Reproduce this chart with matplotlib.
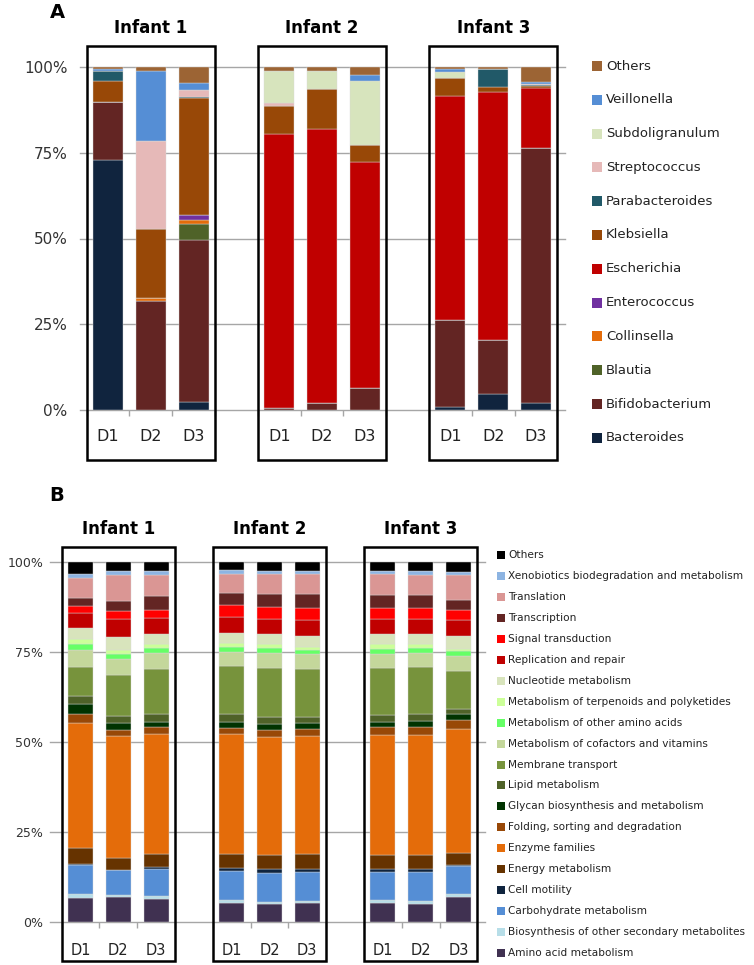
import matplotlib
matplotlib.use("Agg")
import matplotlib.pyplot as plt
from matplotlib.patches import Rectangle
import numpy as np

plt.rcParams['font.family'] = ['DejaVu Sans']

infants = ["Infant 1", "Infant 2", "Infant 3"]
days = ["D1", "D2", "D3"]

# ---------------- Panel A: genera (bottom -> top) ----------------
genera = ["Bacteroides", "Bifidobacterium", "Blautia", "Collinsella", "Enterococcus",
          "Escherichia", "Klebsiella", "Parabacteroides", "Streptococcus",
          "Subdoligranulum", "Veillonella", "Others"]
genera_colors = ["#10243E", "#632523", "#4F6228", "#E46C0A", "#7030A0",
                 "#C00000", "#984807", "#215968", "#E6B9B8",
                 "#D7E4BD", "#558ED5", "#9C6434"]
# columns: I1D1, I1D2, I1D3, I2D1, I2D2, I2D3, I3D1, I3D2, I3D3
bacteroides     = [72.8, 0.0, 2.4, 0.0, 0.0, 0.0, 0.8, 4.7, 2.0]
bifidobacterium = [17.1, 31.9, 47.3, 0.5, 2.0, 6.5, 25.5, 15.7, 74.5]
blautia         = [0.0, 0.0, 4.4, 0.0, 0.0, 0.0, 0.0, 0.0, 0.0]
collinsella     = [0.0, 0.8, 1.2, 0.0, 0.0, 0.0, 0.0, 0.0, 0.0]
enterococcus    = [0.0, 0.0, 1.6, 0.0, 0.0, 0.0, 0.0, 0.0, 0.0]
escherichia     = [0.0, 0.0, 0.0, 79.9, 79.8, 65.7, 65.2, 72.4, 17.3]
klebsiella      = [6.1, 20.0, 34.1, 8.2, 11.9, 5.0, 5.2, 1.5, 0.7]
parabacteroides = [2.9, 0.0, 0.3, 0.0, 0.0, 0.0, 0.0, 5.1, 0.3]
streptococcus   = [0.0, 25.7, 2.0, 0.8, 0.0, 0.0, 0.0, 0.0, 0.3]
subdoligranulum = [0.0, 0.0, 0.0, 9.5, 5.0, 18.8, 1.7, 0.0, 0.0]
veillonella     = [0.4, 20.4, 1.9, 0.0, 0.0, 1.6, 1.0, 0.0, 0.4]
others_a        = [0.7, 1.1, 4.8, 1.1, 1.3, 2.4, 0.6, 0.6, 4.5]
genera_values = [bacteroides, bifidobacterium, blautia, collinsella, enterococcus,
                 escherichia, klebsiella, parabacteroides, streptococcus,
                 subdoligranulum, veillonella, others_a]

# ---------------- Panel B: functional categories (bottom -> top) ----------------
functions = ["Amino acid metabolism", "Biosynthesis of other secondary metabolites",
             "Carbohydrate metabolism", "Cell motility", "Energy metabolism",
             "Enzyme families", "Folding, sorting and degradation",
             "Glycan biosynthesis and metabolism", "Lipid metabolism",
             "Membrane transport", "Metabolism of cofactors and vitamins",
             "Metabolism of other amino acids", "Metabolism of terpenoids and polyketides",
             "Nucleotide metabolism", "Replication and repair", "Signal transduction",
             "Transcription", "Translation", "Xenobiotics biodegradation and metabolism",
             "Others"]
function_colors = ["#403151", "#B7DEE8", "#558ED5", "#0F243E", "#663300",
                   "#E46C0A", "#984807", "#003300", "#4F6228", "#77933C",
                   "#C4D79B", "#66FF66", "#CCFF99", "#D8E4BC", "#C00000",
                   "#FF0000", "#632523", "#DA9694", "#8DB4E2", "#000000"]
# rows: samples I1D1..I3D3, columns follow `functions`
i1d1 = [6.7, 1.0, 8.0, 0.3, 4.6, 34.8, 2.5, 2.6, 2.4, 7.8, 4.8, 1.8, 1.2, 3.3, 4.0, 2.1, 2.2, 5.5, 1.2, 3.2]
i1d2 = [6.9, 0.5, 7.0, 0.1, 3.3, 33.8, 1.8, 2.0, 1.7, 11.6, 4.4, 1.4, 1.0, 3.7, 5.1, 2.1, 2.8, 7.3, 1.0, 2.5]
i1d3 = [6.5, 0.7, 7.6, 0.4, 3.6, 33.3, 2.1, 1.4, 2.1, 12.5, 4.5, 1.4, 1.0, 2.8, 4.6, 2.3, 3.7, 5.8, 1.2, 2.5]
i2d1 = [5.4, 0.6, 8.1, 1.0, 3.9, 33.1, 1.9, 1.6, 2.1, 13.4, 3.9, 1.4, 1.2, 2.8, 4.3, 3.3, 3.4, 5.2, 1.1, 2.3]
i2d2 = [5.1, 0.5, 8.1, 0.9, 3.9, 32.9, 1.8, 1.7, 2.0, 13.7, 4.1, 1.4, 1.0, 3.0, 4.0, 3.3, 3.8, 5.4, 0.9, 2.5]
i2d3 = [5.4, 0.3, 8.2, 0.9, 4.0, 32.8, 1.9, 1.8, 1.6, 13.3, 4.2, 1.2, 0.8, 3.0, 4.6, 3.3, 3.7, 5.6, 0.9, 2.5]
i3d1 = [5.4, 0.6, 7.9, 0.7, 4.1, 33.2, 2.3, 1.4, 1.8, 13.2, 3.9, 1.4, 1.2, 3.0, 4.2, 3.0, 3.4, 5.9, 0.9, 2.5]
i3d2 = [5.1, 0.6, 8.2, 0.7, 4.1, 33.2, 2.3, 1.6, 1.9, 13.1, 3.9, 1.5, 1.1, 2.8, 4.2, 3.0, 3.4, 5.6, 1.2, 2.5]
i3d3 = [6.9, 1.0, 7.6, 0.3, 3.5, 34.2, 2.5, 1.9, 1.4, 10.4, 4.1, 1.4, 0.7, 3.5, 4.6, 2.6, 2.8, 6.9, 0.9, 2.8]
function_samples = [i1d1, i1d2, i1d3, i2d1, i2d2, i2d3, i3d1, i3d2, i3d3]

ytick_labels = ["0%", "25%", "50%", "75%", "100%"]

W, H = 754, 965
fig = plt.figure(figsize=(W / 100, H / 100), dpi=100)

def fx(px):
    return px / W

def fy(py):
    return 1 - py / H

positions = np.array([0, 1, 2, 4, 5, 6, 8, 9, 10], dtype=float)


def draw_panel(ax, layers, colors, width, box_top, box_bot, title_y,
               ytick_fs, xtick_fs, title_fs, xpad, ypad):
    bottom = np.zeros(len(positions))
    for vals, col in zip(layers, colors):
        vals = np.asarray(vals, dtype=float)
        ax.bar(positions, vals, width=width, bottom=bottom, color=col,
               edgecolor="#d9d9d9", linewidth=0.3, zorder=3)
        bottom += vals
    ax.set_ylim(0, 100)
    ax.set_yticks([0, 25, 50, 75, 100])
    ax.set_yticklabels(ytick_labels, fontsize=ytick_fs, color="#333333")
    for yv in [0, 25, 50, 75, 100]:
        ax.axhline(yv, color="#a6a6a6", linewidth=1.0, zorder=1, clip_on=False)
    ax.tick_params(axis="y", length=0, pad=ypad)
    ax.set_xticks(positions)
    ax.set_xticklabels(days * 3, fontsize=xtick_fs, color="#222222")
    ax.tick_params(axis="x", which="major", length=0, pad=xpad)
    minor = []
    for g in range(3):
        minor += [4 * g - 0.5, 4 * g + 0.5, 4 * g + 1.5, 4 * g + 2.5]
    ax.set_xticks(minor, minor=True)
    ax.tick_params(axis="x", which="minor", length=4, color="#a6a6a6", width=1)
    for s in ax.spines.values():
        s.set_visible(False)
    for g, name in enumerate(infants):
        ax.add_patch(Rectangle((4 * g - 0.5, box_bot), 3, box_top - box_bot,
                               fill=False, edgecolor="black", linewidth=1.8,
                               clip_on=False, zorder=5))
        ax.text(4 * g + 1, title_y, name, ha="center", va="center",
                fontsize=title_fs, fontweight="bold", clip_on=False)


# ---------------- Panel A axes ----------------
# px mapping: x = 108 + 42.8*pos ; y: 100% at 67, 0% at 410
axA = fig.add_axes([fx(80), fy(410), fx(565) - fx(80), fy(67) - fy(410)])
axA.set_xlim((80 - 108) / 42.8, (565 - 108) / 42.8)
draw_panel(axA, genera_values, genera_colors, 0.70,
           box_top=(410 - 46) / 3.43, box_bot=(410 - 460) / 3.43,
           title_y=(410 - 28) / 3.43, ytick_fs=11, xtick_fs=11.5, title_fs=12,
           xpad=14, ypad=9)

# ---------------- Panel B axes ----------------
# px mapping: x = 80.5 + 37.8*pos ; y: 100% at 562, 0% at 922
axB = fig.add_axes([fx(50), fy(922), fx(485) - fx(50), fy(562) - fy(922)])
axB.set_xlim((50 - 80.5) / 37.8, (485 - 80.5) / 37.8)
layersB = [list(col) for col in zip(*function_samples)]
draw_panel(axB, layersB, function_colors, 0.66,
           box_top=(922 - 547) / 3.6, box_bot=(922 - 961) / 3.6,
           title_y=(922 - 529) / 3.6, ytick_fs=9, xtick_fs=10.5, title_fs=12,
           xpad=15, ypad=5)

# ---------------- Panel letters ----------------
fig.text(fx(57), fy(13), "A", fontsize=14, fontweight="bold", ha="center", va="center")
fig.text(fx(57), fy(495), "B", fontsize=14, fontweight="bold", ha="center", va="center")

# ---------------- Legends (top entry = last layer) ----------------
for i, (name, col) in enumerate(zip(genera[::-1], genera_colors[::-1])):
    yc = 66 + 33.8 * i
    fig.patches.append(Rectangle((fx(592), fy(yc + 5)), fx(10), 10 / H,
                                 transform=fig.transFigure, facecolor=col,
                                 edgecolor="none"))
    fig.text(fx(606), fy(yc), name, fontsize=9.5, ha="left", va="center",
             color="#222222")

for i, (name, col) in enumerate(zip(functions[::-1], function_colors[::-1])):
    yc = 555 + 20.95 * i
    fig.patches.append(Rectangle((fx(497), fy(yc + 4)), fx(8), 8 / H,
                                 transform=fig.transFigure, facecolor=col,
                                 edgecolor="none"))
    fig.text(fx(508), fy(yc), name, fontsize=7.6, ha="left", va="center",
             color="#222222")

fig.savefig("out.png", dpi=100)
